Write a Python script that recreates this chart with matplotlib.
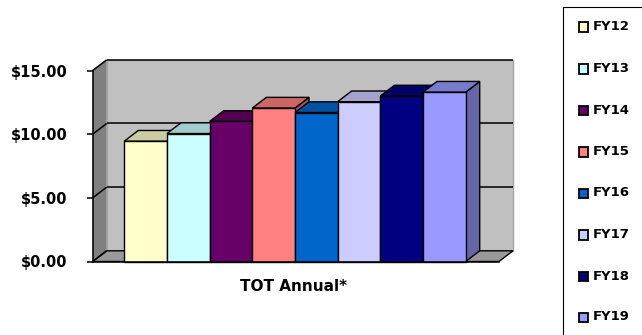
import matplotlib
matplotlib.use("Agg")
import matplotlib.pyplot as plt
from matplotlib.patches import Polygon, Rectangle
from matplotlib.colors import to_rgb

# Data
categories = ["FY12", "FY13", "FY14", "FY15", "FY16", "FY17", "FY18", "FY19"]
values = [9.45, 10.05, 11.00, 12.05, 11.70, 12.55, 13.00, 13.30]
colors = ["#FFFFCC", "#CCFFFF", "#660066", "#FF8080",
          "#0066CC", "#CCCCFF", "#000080", "#9999FF"]
yticks = [0, 5, 10, 15]
xlabel = "TOT Annual*"

W, H, DPI = 642, 335, 100
fig = plt.figure(figsize=(W / DPI, H / DPI), dpi=DPI)
fig.patch.set_facecolor("white")

# axes frame = front plane of the 3-D plot area
left_px, right_px = 92.7, 499.0
top_px, bottom_px = 70.5, 261.5
ax = fig.add_axes([left_px / W, 1 - bottom_px / H,
                   (right_px - left_px) / W, (bottom_px - top_px) / H])
x0, x1 = -1.24, 8.28
ymax = 15
ax.set_xlim(x0, x1)
ax.set_ylim(0, ymax)
ax.patch.set_visible(False)

# depth offsets (data units)
dx = 14.0 / 42.675
dy = 10.7 / 12.733

wall_kw = dict(clip_on=False, zorder=1)
# back wall
ax.add_patch(Polygon([(x0 + dx, dy), (x1 + dx, dy), (x1 + dx, ymax + dy), (x0 + dx, ymax + dy)],
                     closed=True, facecolor="#C0C0C0", edgecolor="#A6A6A6", lw=1.0, **wall_kw))
# side wall
ax.add_patch(Polygon([(x0, 0), (x0, ymax), (x0 + dx, ymax + dy), (x0 + dx, dy)],
                     closed=True, facecolor="#808080", edgecolor="none", **wall_kw))
# floor
ax.add_patch(Polygon([(x0, 0), (x1, 0), (x1 + dx, dy), (x0 + dx, dy)],
                     closed=True, facecolor="#9A9A9A", edgecolor="black", lw=1.0, **wall_kw))

# gridlines on back and side walls
for v in yticks:
    if v > 0:
        ax.plot([x0 + dx, x1 + dx], [v + dy, v + dy], color="black", lw=1.1,
                clip_on=False, zorder=2, solid_capstyle="butt")
    ax.plot([x0, x0 + dx], [v, v + dy], color="black", lw=1.1,
            clip_on=False, zorder=2, solid_capstyle="butt")


def shade(c, f):
    r, g, b = to_rgb(c)
    return (r * f, g * f, b * f)


# 3-D columns, painted left to right
for i, (v, c) in enumerate(zip(values, colors)):
    z = 3 + i * 3
    l, r = i - 0.5, i + 0.5
    ax.add_patch(Polygon([(r, 0), (r, v), (r + dx, v + dy), (r + dx, dy)], closed=True,
                         facecolor=shade(c, 0.66), edgecolor="black", lw=1.0,
                         clip_on=False, zorder=z))
    ax.add_patch(Polygon([(l, v), (r, v), (r + dx, v + dy), (l + dx, v + dy)], closed=True,
                         facecolor=shade(c, 0.8), edgecolor="black", lw=1.0,
                         clip_on=False, zorder=z + 1))
    ax.bar(i, v, width=1.0, color=c, edgecolor="black", lw=1.0,
           clip_on=False, zorder=z + 2)

# front bottom edge
ax.plot([x0, x1], [0, 0], color="black", lw=1.1, clip_on=False, zorder=40)

# axis styling
for s in ["top", "right", "bottom"]:
    ax.spines[s].set_visible(False)
ax.spines["left"].set_bounds(0, ymax)
ax.spines["left"].set_linewidth(1.1)
ax.spines["left"].set_zorder(41)
ax.set_xticks([])
ax.set_yticks(yticks)
ax.set_yticklabels([f"${t:.2f}" for t in yticks], fontsize=10.5, fontweight="bold",
                   family="DejaVu Sans")
ax.tick_params(axis="y", length=4.3, width=1.1, pad=14)

fig.text(294 / W, 1 - 286.7 / H, xlabel, ha="center", va="center",
         fontsize=11, fontweight="bold")

# legend box (runs off the right and bottom edges)
fig.patches.append(Rectangle((563.3 / W, -0.1), 0.3, 1 - 7.3 / H + 0.1,
                             transform=fig.transFigure, facecolor="white",
                             edgecolor="black", lw=0.8))
ys = [27.0, 68.5, 110.0, 151.5, 193.0, 234.5, 276.0, 317.0]
for lab, c, yc in zip(categories, colors, ys):
    fig.patches.append(Rectangle((578.5 / W, 1 - (yc + 5) / H), 9.5 / W, 9.5 / H,
                                 transform=fig.transFigure, facecolor=c,
                                 edgecolor="black", lw=1.3))
    fig.text(592.5 / W, 1 - yc / H, lab, ha="left", va="center",
             fontsize=9.5, fontweight="bold")

fig.savefig("out.png", dpi=DPI)
